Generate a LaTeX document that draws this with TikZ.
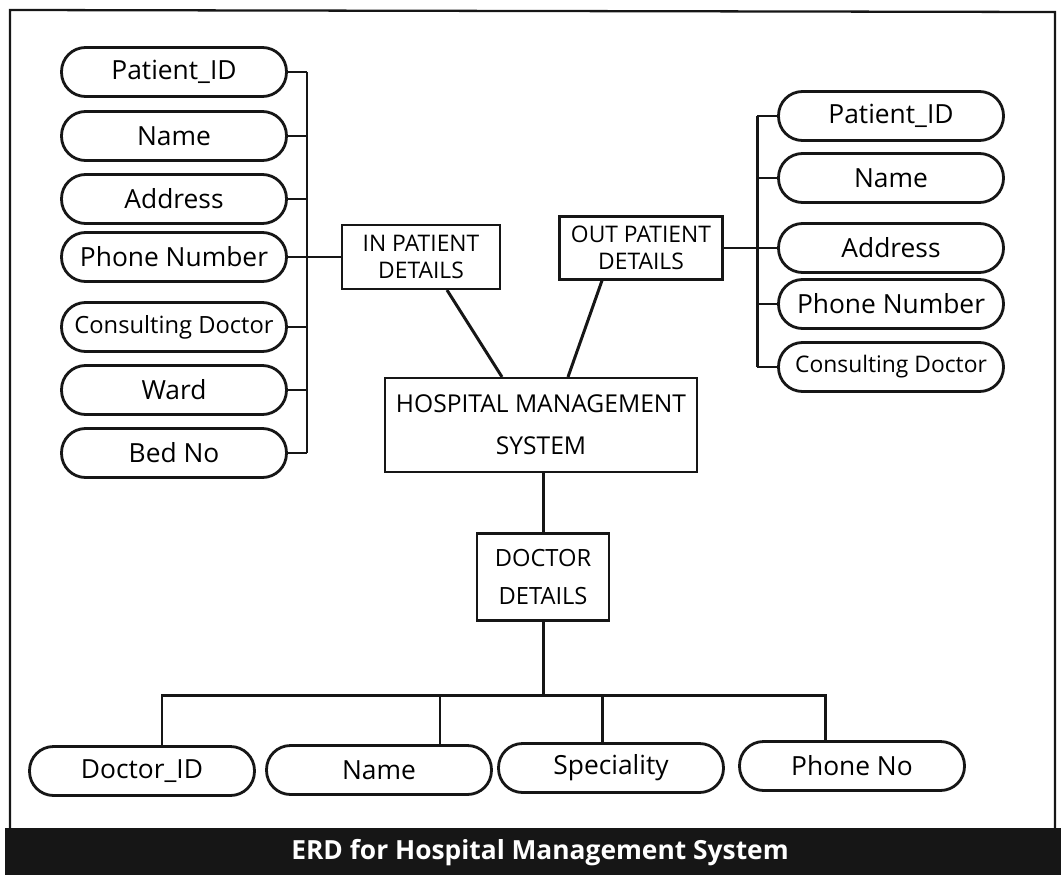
\documentclass[tikz,border=0pt]{standalone}
\usepackage{fontspec}
\setmainfont{Open Sans}
\usetikzlibrary{positioning,calc}
\definecolor{inkblack}{RGB}{22,22,22}

\tikzset{
  attr/.style={draw=inkblack, line width=1.6pt, rounded corners=0.48cm,
    minimum width=4.5cm, minimum height=0.98cm, inner sep=0pt,
    font=\fontsize{15}{18}\selectfont},
  entity/.style={draw=inkblack, line width=1.2pt, align=center, inner sep=0pt,
    font=\fontsize{13}{15}\selectfont},
  link/.style={inkblack, line width=1.7pt}
}

\begin{document}
\begin{tikzpicture}[x=0.02cm, y=-0.02cm]
    \useasboundingbox (0,0) rectangle (1061,875);

    % Frame and caption band
    \draw[inkblack, line width=1.3pt] (10,828) -- (10,10) -- (1055,12) -- (1055,828);
    \fill[inkblack] (5,828) rectangle (1061,875);
    \node[white, font=\fontsize{15}{17}\selectfont\bfseries] (caption) at (540,853) {ERD for Hospital Management System};

    % Central entity
    \node[entity, minimum width=6.24cm, minimum height=1.88cm, font=\fontsize{14}{24}\selectfont] (hms) at (541,425) {HOSPITAL MANAGEMENT\\SYSTEM};
    \node[entity, minimum width=3.16cm, minimum height=1.28cm] (inpat) at (421,257) {IN PATIENT\\DETAILS};
    \node[entity, minimum width=3.26cm, minimum height=1.26cm] (outpat) at (641,248) {OUT PATIENT\\DETAILS};
    \node[entity, minimum width=2.64cm, minimum height=1.74cm, font=\fontsize{13.5}{22}\selectfont] (doc) at (543,577) {DOCTOR\\DETAILS};

    % In patient attributes
    \node[attr] (lpid) at (174,72) {Patient\_ID};
    \node[attr] (lname) at (174,136) {Name};
    \node[attr] (laddr) at (174,199) {Address};
    \node[attr] (lphone) at (174,257) {Phone Number};
    \node[attr, font=\fontsize{13.5}{16}\selectfont] (lcons) at (174,327) {Consulting Doctor};
    \node[attr] (lward) at (174,390) {Ward};
    \node[attr] (lbed) at (174,453) {Bed No};

    \coordinate (lbus) at (307,0);
    \foreach \n in {lpid,lname,laddr,lphone,lcons,lward,lbed}
        \draw[link] (\n.east) -- (\n.east -| lbus);
    \draw[link] (lpid.east -| lbus) -- (lbed.east -| lbus);
    \draw[link] (lphone.east -| lbus) -- (inpat.west);

    % Out patient attributes
    \node[attr] (rpid) at (891,116) {Patient\_ID};
    \node[attr] (rname) at (891,178) {Name};
    \node[attr] (raddr) at (891,248) {Address};
    \node[attr] (rphone) at (891,304) {Phone Number};
    \node[attr, font=\fontsize{13}{16}\selectfont] (rcons) at (891,367) {Consulting Doctor};

    \coordinate (rbus) at (757,0);
    \foreach \n in {rpid,rname,raddr,rphone,rcons}
        \draw[link] (\n.west) -- (\n.west -| rbus);
    \draw[link] (rpid.west -| rbus) -- (rcons.west -| rbus);
    \draw[link] (outpat.east) -- (raddr.west);

    % Entities to the system
    \draw[link] ($(inpat.south)+(26,0)$) -- ($(hms.north)+(-39,0)$);
    \draw[link] ($(outpat.south)+(-39,0)$) -- ($(hms.north)+(27,0)$);
    \draw[link] (hms.south -| doc.north) -- (doc.north);

    % Doctor attributes
    \node[attr] (did) at (142,771) {Doctor\_ID};
    \node[attr] (dname) at (379,770) {Name};
    \node[attr] (dspec) at (611,768) {Speciality};
    \node[attr] (dphone) at (852,766) {Phone No};

    \coordinate (dbus) at (543,695);
    \coordinate (didtop) at ($(did.north)+(20,0)$);
    \coordinate (dnametop) at ($(dname.north)+(61,0)$);
    \coordinate (dspectop) at ($(dspec.north)+(-9,0)$);
    \coordinate (dphonetop) at ($(dphone.north)+(-27,0)$);
    \draw[link] (doc.south) -- (dbus);
    \draw[link] (didtop) |- (dbus);
    \draw[link] (dphonetop) |- (dbus);
    \draw[link] (dnametop) -- (dnametop |- dbus);
    \draw[link] (dspectop) -- (dspectop |- dbus);
\end{tikzpicture}
\end{document}
